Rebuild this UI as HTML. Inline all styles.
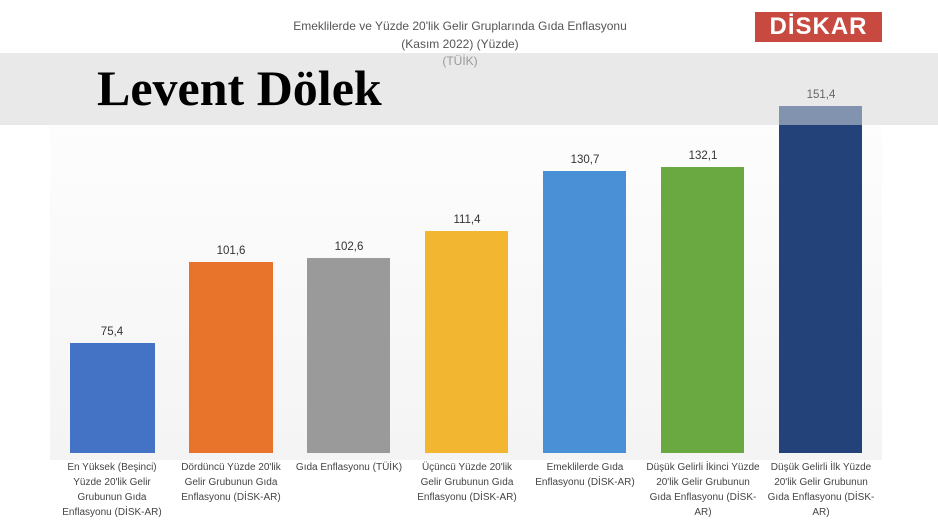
<!DOCTYPE html>
<html><head><meta charset="utf-8"><style>
body{margin:0;width:938px;height:527px;background:#fff;position:relative;overflow:hidden;font-family:"Liberation Sans",sans-serif}
.plot{position:absolute;left:50px;top:50px;width:832px;height:410px;background:linear-gradient(#fff,#f4f4f4)}
.band{position:absolute;left:0;top:53px;width:938px;height:72px;background:#e9e9e9}
.name{position:absolute;left:97px;top:59px;font:bold 50px "Liberation Serif",serif;color:#000;white-space:nowrap}
.t{position:absolute;left:250px;width:420px;text-align:center;color:#555;font-size:12px}
.bar{position:absolute;bottom:74px}
.v{position:absolute;font-size:11.5px;color:#333;text-align:center;width:84px}
.l{position:absolute;top:460px;width:112px;text-align:center;font-size:10px;line-height:15px;color:#444}
.logo{position:absolute;left:755px;top:12px;width:127px;height:30px;background:#c8493f;color:#fff;font:bold 24px "Liberation Sans",sans-serif;text-align:center;line-height:30px;letter-spacing:1px}
</style></head><body>
<div class="plot"></div>
<div class="t" style="top:19px">Emeklilerde ve Yüzde 20'lik Gelir Gruplarında Gıda Enflasyonu</div>
<div class="t" style="top:37px">(Kasım 2022) (Yüzde)</div>
<div class="logo">DİSKAR</div>
<div class="band"></div>
<div class="t" style="top:54px;color:#999">(TÜİK)</div>
<div class="name">Levent Dölek</div>

<div class="bar" style="left:70px;width:85px;top:343px;background:#4472c4"></div>
<div class="bar" style="left:189px;width:84px;top:262px;background:#e8732a"></div>
<div class="bar" style="left:307px;width:83px;top:258px;background:#9a9a9a"></div>
<div class="bar" style="left:425px;width:83px;top:231px;background:#f2b630"></div>
<div class="bar" style="left:543px;width:83px;top:171px;background:#4a90d6"></div>
<div class="bar" style="left:661px;width:83px;top:167px;background:#6aa842"></div>
<div class="bar" style="left:779px;width:83px;top:125px;background:#24427a"></div>
<div style="position:absolute;left:779px;width:83px;top:106px;height:19px;background:#8193ae"></div>

<div class="v" style="left:70px;top:326px">75,4</div>
<div class="v" style="left:189px;top:245px">101,6</div>
<div class="v" style="left:307px;top:241px">102,6</div>
<div class="v" style="left:425px;top:214px">111,4</div>
<div class="v" style="left:543px;top:154px">130,7</div>
<div class="v" style="left:661px;top:150px">132,1</div>
<div class="v" style="left:779px;top:89px;color:#666">151,4</div>

<div class="l" style="left:56px">En Yüksek (Beşinci) Yüzde 20'lik Gelir Grubunun Gıda Enflasyonu (DİSK-AR)</div>
<div class="l" style="left:175px">Dördüncü Yüzde 20'lik Gelir Grubunun Gıda Enflasyonu (DİSK-AR)</div>
<div class="l" style="left:293px">Gıda Enflasyonu (TÜİK)</div>
<div class="l" style="left:411px">Üçüncü Yüzde 20'lik Gelir Grubunun Gıda Enflasyonu (DİSK-AR)</div>
<div class="l" style="left:529px;width:112px">Emeklilerde Gıda Enflasyonu (DİSK-AR)</div>
<div class="l" style="left:645px;width:116px">Düşük Gelirli İkinci Yüzde 20'lik Gelir Grubunun Gıda Enflasyonu (DİSK-AR)</div>
<div class="l" style="left:763px;width:116px">Düşük Gelirli İlk Yüzde 20'lik Gelir Grubunun Gıda Enflasyonu (DİSK-AR)</div>
</body></html>
